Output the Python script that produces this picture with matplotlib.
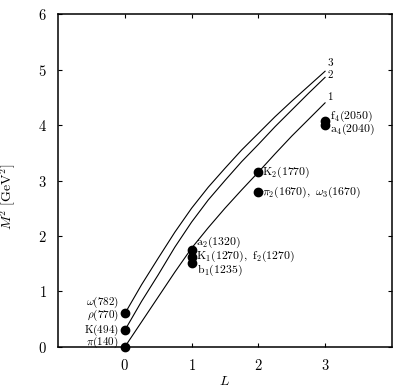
import matplotlib
matplotlib.use("Agg")
import matplotlib.pyplot as plt

plt.rcParams["mathtext.fontset"] = "cm"
plt.rcParams["font.family"] = "serif"
plt.rcParams["font.serif"] = ["DejaVu Serif"]

# trajectory curves
L_curve = [0, 0.25, 0.5, 0.75, 1, 1.25, 1.5, 1.75, 2, 2.25, 2.5, 2.75, 3]
curve1 = [0.0, 0.45, 0.9, 1.35, 1.78, 2.15, 2.5, 2.83, 3.15, 3.48, 3.8, 4.1, 4.4]
curve2 = [0.3, 0.82, 1.3, 1.8, 2.25, 2.65, 3.0, 3.34, 3.65, 3.97, 4.27, 4.57, 4.86]
curve3 = [0.6, 1.12, 1.6, 2.07, 2.5, 2.88, 3.22, 3.55, 3.85, 4.15, 4.43, 4.7, 4.97]
curve_names = ["1", "2", "3"]
curve_label_dy = [0.02, -0.04, 0.06]

# meson points
pt_L = [0, 0, 0, 1, 1, 1, 2, 2, 3, 3]
pt_M2 = [0.0, 0.3, 0.61, 1.75, 1.63, 1.51, 3.15, 2.8, 4.07, 4.0]

labels_left = [r"$\omega(782)$", r"$\rho(770)$", r"$\mathrm{K}(494)$", r"$\pi(140)$"]
labels_left_y = [0.8, 0.56, 0.3, 0.08]
labels_right = [r"$\mathrm{a}_2(1320)$", r"$\mathrm{K}_1(1270),\ \mathrm{f}_2(1270)$",
                r"$\mathrm{b}_1(1235)$", r"$\mathrm{K}_2(1770)$",
                r"$\pi_2(1670),\ \omega_3(1670)$", r"$\mathrm{f}_4(2050)$", r"$\mathrm{a}_4(2040)$"]
labels_right_x = [1.06, 1.06, 1.08, 2.05, 2.06, 3.08, 3.08]
labels_right_y = [1.89, 1.64, 1.38, 3.15, 2.79, 4.16, 3.93]

fig = plt.figure(figsize=(4.09, 3.92), dpi=100)
ax = fig.add_axes([0.142, 0.115, 0.816, 0.849])

for c, name, dy in zip([curve1, curve2, curve3], curve_names, curve_label_dy):
    ax.plot(L_curve, c, color="black", lw=0.8)
    ax.text(L_curve[-1] + 0.03, c[-1] + dy, r"$%s$" % name, fontsize=8,
            ha="left", va="bottom")

ax.plot(pt_L, pt_M2, "o", color="black", ms=6, clip_on=False, zorder=3)

for s, y in zip(labels_left, labels_left_y):
    ax.text(-0.09, y, s, fontsize=8, ha="right", va="center")
for s, x, y in zip(labels_right, labels_right_x, labels_right_y):
    ax.text(x, y, s, fontsize=8.5, ha="left", va="center")

ax.set_xlim(-1, 4)
ax.set_ylim(0, 6)
ax.set_xticks([0, 1, 2, 3])
ax.set_xticklabels([r"$\mathbf{%d}$" % v for v in [0, 1, 2, 3]])
ax.set_yticks(range(7))
ax.set_yticklabels([r"$\mathbf{%d}$" % v for v in range(7)])
ax.tick_params(direction="in", length=3, width=0.8, top=True, right=True,
               labelsize=10.5, pad=8)
for sp in ax.spines.values():
    sp.set_linewidth(1.1)

ax.set_xlabel(r"$L$", fontsize=10, labelpad=1)
ax.set_ylabel(r"$M^2\ [\mathrm{GeV}^2]$", fontsize=10, labelpad=8)
ax.yaxis.set_label_coords(-0.12, 0.45)

fig.savefig("out.png", dpi=100)
